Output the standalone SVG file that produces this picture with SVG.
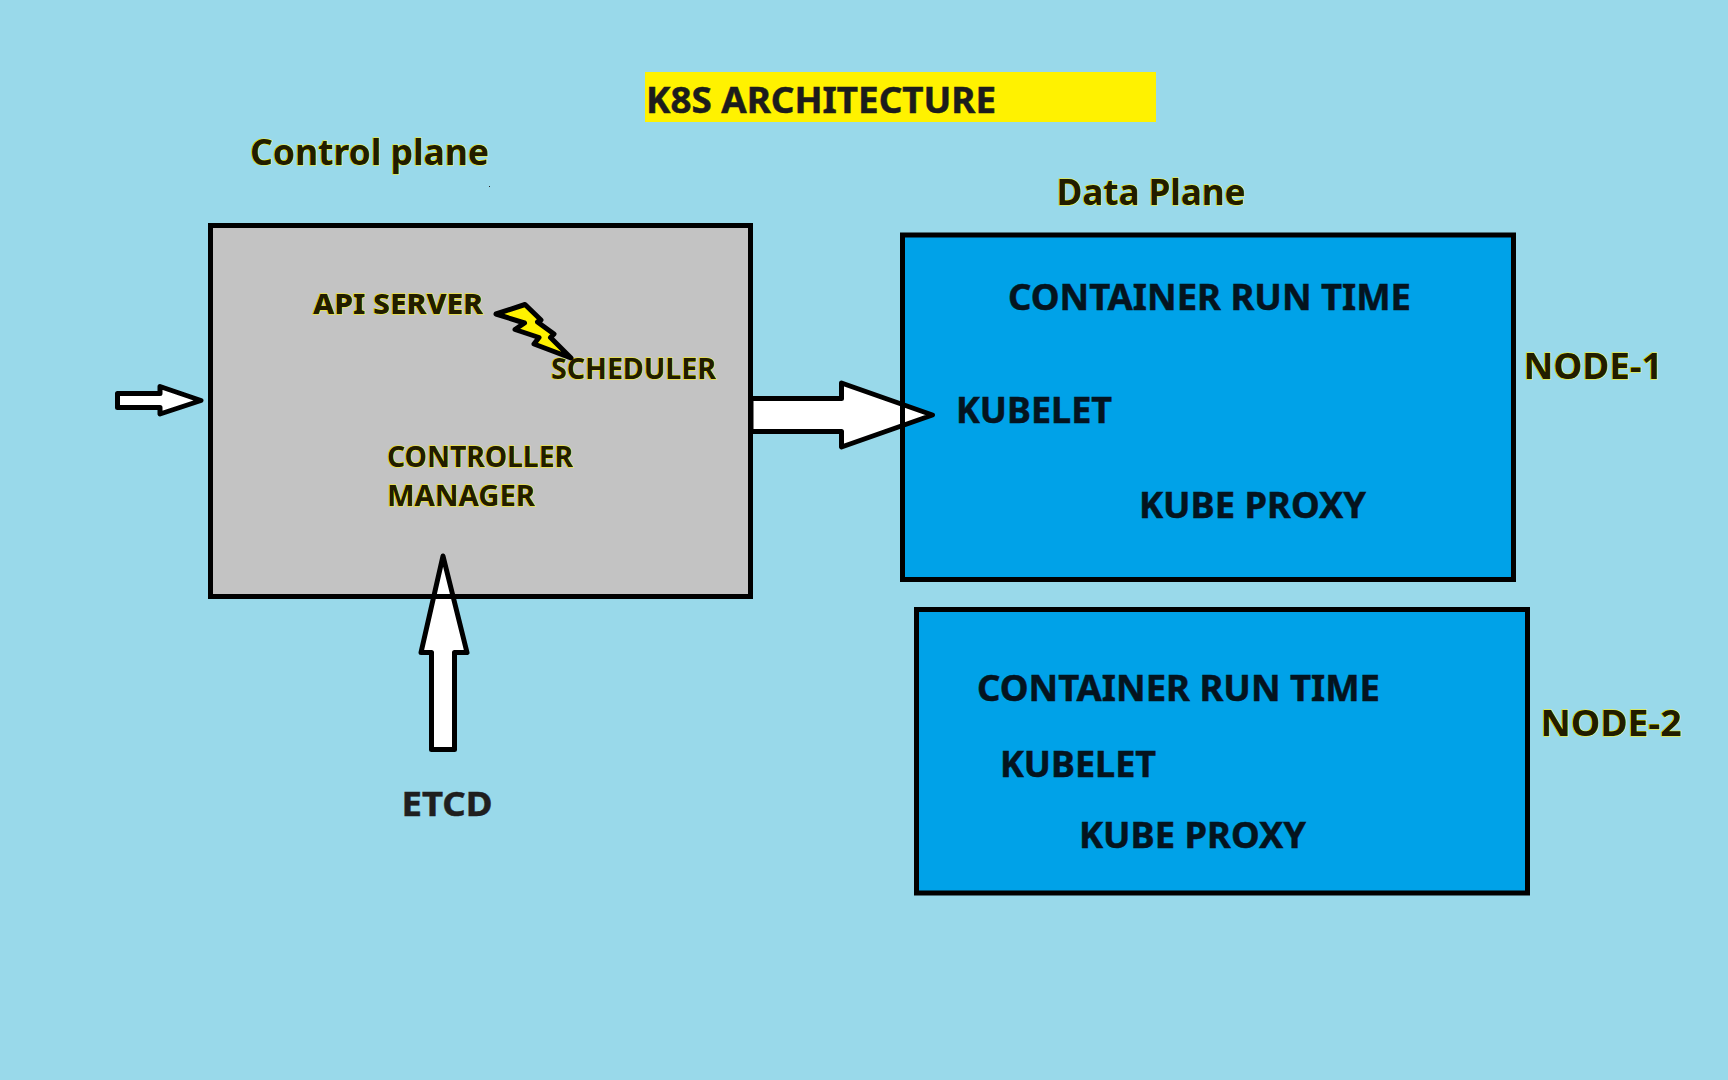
<svg xmlns="http://www.w3.org/2000/svg" width="1728" height="1080" viewBox="0 0 1728 1080">
<style>
text{font-family:"Noto Sans","Open Sans","Liberation Sans",sans-serif;font-weight:700}
.box{stroke:#000;stroke-width:5;stroke-linejoin:miter}
.cp{fill:#c3c3c3}
.dp{fill:#00a2e8}
.arrow{fill:#fff;stroke:#000;stroke-width:5;stroke-linejoin:round}
.edge{stroke:#000;stroke-width:5;fill:none}
.hl{fill:#211c00;stroke:#fff200;stroke-width:1;paint-order:stroke;font-size:28px}
.big{font-size:36px}
.mid{font-size:34px}
.dk{fill:#04141f;stroke:#04141f;stroke-width:.5;font-size:36px}
</style>
<rect id="background" width="1728" height="1080" fill="#99d9ea"/>
<g id="title"><rect x="645" y="72" width="511" height="50" fill="#fff200"/><text x="646" y="113" class="big" fill="#1c1c1c" stroke="#1c1c1c" stroke-width=".5" textLength="350" lengthAdjust="spacingAndGlyphs">K8S ARCHITECTURE</text></g>
<g id="control-plane-label"><text x="250" y="165" class="hl big" textLength="239" lengthAdjust="spacingAndGlyphs">Control plane</text><rect x="489" y="186" width="1" height="1" fill="#222"/></g>
<g id="data-plane-label"><text x="1056.5" y="205" class="hl big" textLength="189" lengthAdjust="spacingAndGlyphs">Data Plane</text></g>
<g id="control-plane">
<rect x="210.5" y="225.5" width="540" height="371" class="box cp"/>
<text x="313" y="314" class="hl" style="font-weight:800" textLength="170" lengthAdjust="spacingAndGlyphs">API SERVER</text>
<text x="551" y="379" class="hl" textLength="165" lengthAdjust="spacingAndGlyphs">SCHEDULER</text>
<text x="387" y="467" class="hl" textLength="186" lengthAdjust="spacingAndGlyphs">CONTROLLER</text>
<text x="387" y="506" class="hl" textLength="148" lengthAdjust="spacingAndGlyphs">MANAGER</text>
<polygon id="scheduler-bolt" points="496,314 525,304.5 541,320 537.5,322 554,334 550.5,337.5 571,358 534,344 539,337.5 515,329.5 524.5,323" fill="#fff200" stroke="#000" stroke-width="5" stroke-linejoin="round"/>
</g>
<g id="node-1">
<rect x="902.5" y="235" width="611" height="344.5" class="box dp"/>
<text x="1008" y="310" class="dk" textLength="403" lengthAdjust="spacingAndGlyphs">CONTAINER RUN TIME</text>
<text x="956" y="423" class="dk" textLength="156" lengthAdjust="spacingAndGlyphs">KUBELET</text>
<text x="1139" y="518" class="dk" textLength="227" lengthAdjust="spacingAndGlyphs">KUBE PROXY</text>
</g>
<g id="node-1-label"><text x="1523.5" y="379" class="hl big" textLength="139" lengthAdjust="spacingAndGlyphs">NODE-1</text></g>
<g id="node-2">
<rect x="916.5" y="609.5" width="611" height="283.5" class="box dp"/>
<text x="977" y="701" class="dk" textLength="403" lengthAdjust="spacingAndGlyphs">CONTAINER RUN TIME</text>
<text x="1000" y="777" class="dk" textLength="156" lengthAdjust="spacingAndGlyphs">KUBELET</text>
<text x="1079" y="848" class="dk" textLength="227" lengthAdjust="spacingAndGlyphs">KUBE PROXY</text>
</g>
<g id="node-2-label"><text x="1540.5" y="736" class="hl big" textLength="141" lengthAdjust="spacingAndGlyphs">NODE-2</text></g>
<g id="etcd-label"><text x="401.5" y="816" class="mid" fill="#1f1f1f" stroke="#1f1f1f" stroke-width=".5" textLength="91" lengthAdjust="spacingAndGlyphs">ETCD</text></g>
<g id="connectors">
<polygon class="arrow" points="117.5,393.5 160,393.5 160,386.5 201,400.5 160,414 160,407.5 117.5,407.5"/>
<polygon class="arrow" points="751,398.5 841.5,398.5 841.5,383 932.5,415 841.5,447 841.5,431.5 751,431.5"/>
<polygon class="arrow" points="431.5,749.5 431.5,652.5 421,652.5 443,556 467,652.5 454.5,652.5 454.5,749.5"/>
<path class="edge" d="M750.5 396V434M902.5 380V450M425 596.5H462"/>
</g>
</svg>
